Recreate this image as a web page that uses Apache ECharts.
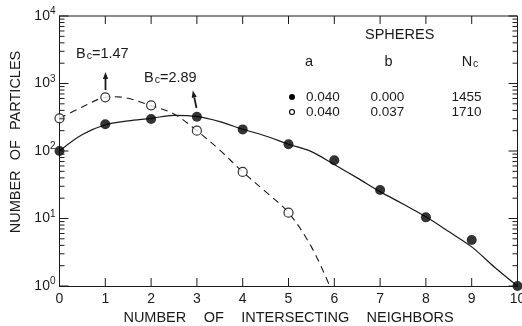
<!DOCTYPE html>
<html>
<head>
<meta charset="utf-8">
<script src="https://cdn.jsdelivr.net/npm/echarts@6/dist/echarts.min.js"></script>
<style>
html, body { margin: 0; padding: 0; background: #fff; }
#main { width: 522px; height: 326px; }
</style>
</head>
<body>
<div id="main"></div>
<script>
// 数据
var neighbors = [0, 1, 2, 3, 4, 5, 6, 7, 8, 9, 10];
var filledVals = [100, 249, 298, 322, 209, 126, 73, 26.4, 10.4, 4.8, 1];
var openX = [0, 1, 2, 3, 4, 5];
var openVals = [305, 625, 475, 200, 49, 12.2];
// fitted curves, read at several x positions
var solidCurveX = [0, 0.5, 1, 1.5, 2, 2.5, 3, 3.5, 4, 4.5, 5, 5.5, 6, 6.5, 7, 7.5, 8, 8.5, 9, 9.5, 10];
var solidCurveY = [100, 175, 245, 280, 305, 338, 325, 272, 210, 167, 126, 98, 63, 40, 25, 16.4, 10.6, 6.4, 3.8, 1.9, 1];
var dashCurveX = [0, 0.5, 1, 1.2, 1.5, 2, 2.5, 3, 3.5, 4, 4.5, 5, 5.5, 5.9];
var dashCurveY = [305, 450, 625, 637, 603, 470, 353, 200, 103, 49, 25, 12.2, 3.8, 1];
// axis ticks
var xTicks = [0, 1, 2, 3, 4, 5, 6, 7, 8, 9, 10];
var yDecades = [1, 10, 100, 1000, 10000];
var minorSteps = [2, 3, 4, 5, 6, 7, 8, 9];
var legendHead = ['a', 'b', 'N{sub|c}'];
var legendRows = [['0.040', '0.000', '1455'], ['0.040', '0.037', '1710']];

var FONT = 'Liberation Sans';
var INK = '#1a1a1a';
var WSP = '\u2003\u2009'; // wide gaps between words, like the original lettering

function pairs(xs, ys) {
    var out = [];
    for (var i = 0; i < xs.length; i++) out.push([xs[i], ys[i]]);
    return out;
}

var myChart = echarts.init(document.getElementById('main'));

var option = {
    animation: false,
    grid: { left: 59.5, right: 4.5, top: 16, bottom: 40, outerBoundsMode: 'none' },
    xAxis: {
        type: 'value', min: 0, max: 10, interval: 1,
        name: ['NUMBER', 'OF', 'INTERSECTING', 'NEIGHBORS'].join(WSP),
        nameLocation: 'middle', nameGap: 18,
        nameTextStyle: { fontFamily: FONT, fontSize: 14.5, color: INK },
        axisLine: { onZero: false, lineStyle: { color: INK, width: 1 } },
        axisTick: { show: false },
        axisLabel: { margin: 6, fontFamily: FONT, fontSize: 14, color: INK },
        splitLine: { show: false }
    },
    yAxis: {
        type: 'log', logBase: 10, min: 1, max: 10000,
        name: ['NUMBER', 'OF', 'PARTICLES'].join('\u2002\u2009'),
        nameLocation: 'middle', nameGap: 30,
        nameTextStyle: { fontFamily: FONT, fontSize: 14.5, color: INK, padding: [0, 0, 0, 18] },
        axisLine: { show: true, onZero: false, lineStyle: { color: INK, width: 1 } },
        axisTick: { show: false },
        axisLabel: {
            margin: 4, fontFamily: FONT, fontSize: 14, color: INK,
            formatter: function (v) {
                return '10{sup|' + Math.round(Math.log10(v)) + '}';
            },
            rich: { sup: { fontFamily: FONT, fontSize: 10, color: INK, padding: [0, 0, 9, 0] } }
        },
        splitLine: { show: false }
    },
    series: [{
        name: 'fit a',
        type: 'line', smooth: 0.35, showSymbol: false, symbol: 'none',
        lineStyle: { color: INK, width: 1.2 },
        data: pairs(solidCurveX, solidCurveY),
        z: 2
    }, {
        name: 'fit b',
        type: 'line', smooth: 0.35, showSymbol: false, symbol: 'none',
        lineStyle: { color: INK, width: 1.1, type: [7, 5] },
        data: pairs(dashCurveX, dashCurveY),
        z: 2
    }, {
        name: 'b=0.000',
        type: 'scatter', symbol: 'circle', symbolSize: 10,
        itemStyle: { color: '#000' },
        clip: false,
        data: pairs(neighbors, filledVals),
        z: 4
    }, {
        name: 'b=0.037',
        type: 'scatter', symbol: 'circle', symbolSize: 9,
        itemStyle: { color: '#fff', borderColor: '#000', borderWidth: 1.2 },
        data: pairs(openX, openVals),
        z: 4
    }]
};

myChart.setOption(option);

var g = [];
function px(x, y) { return myChart.convertToPixel({ gridIndex: 0 }, [x, y]); }
function seg(x1, y1, x2, y2, w) {
    g.push({ type: 'line', z: 5, shape: { x1: x1, y1: y1, x2: x2, y2: y2 }, style: { stroke: INK, lineWidth: w || 1 } });
}

// frame + ticks, all placed through the chart's own scales
var lo = px(0, 1), hi = px(10, 10000);
var L = lo[0], B = lo[1], R = hi[0], T = hi[1];
seg(L, T, R, T);
seg(R, T, R, B);
xTicks.forEach(function (v) {
    var p = px(v, 1)[0];
    seg(p, B, p, B - 8);
    seg(p, T, p, T + 8);
});
yDecades.forEach(function (dec, i) {
    var p = px(0, dec)[1];
    seg(L, p, L + 9, p);
    seg(R, p, R - 9, p);
    if (i === yDecades.length - 1) return;
    minorSteps.forEach(function (m) {
        var q = px(0, dec * m)[1];
        seg(L, q, L + 5, q);
        seg(R, q, R - 5, q);
    });
});

// annotations and the little table (legend)
var txt = { fontFamily: FONT, fill: INK };
var subRich = { sub: { fontFamily: FONT, fontSize: 10.5, fill: INK, padding: [5, 0, 0, 1] } };

g.push({ type: 'text', left: 76, top: 46, style: Object.assign({ text: 'B{sub|c}=1.47', fontSize: 14.5, rich: subRich }, txt) });
g.push({ type: 'text', left: 144, top: 70, style: Object.assign({ text: 'B{sub|c}=2.89', fontSize: 14.5, rich: subRich }, txt) });

function arrow(x0, y0, x1, y1) {
    var dx = x1 - x0, dy = y1 - y0, len = Math.sqrt(dx * dx + dy * dy);
    var ux = dx / len, uy = dy / len, hl = 7, hw = 2.6;
    var bx = x1 - ux * hl, by = y1 - uy * hl;
    g.push({ type: 'line', shape: { x1: x0, y1: y0, x2: bx, y2: by }, style: { stroke: INK, lineWidth: 1.8 } });
    g.push({ type: 'polygon', shape: { points: [[x1, y1], [bx - uy * hw, by + ux * hw], [bx + uy * hw, by - ux * hw]] }, style: { fill: INK } });
}
arrow(105.5, 90, 105.5, 72);
arrow(196.5, 108, 192.8, 90.5);

g.push({ type: 'text', left: 365, top: 27, style: Object.assign({ text: 'SPHERES', fontSize: 14.5 }, txt) });
var colX = [309, 388.5, 470];
for (var c = 0; c < legendHead.length; c++) {
    g.push({ type: 'text', x: colX[c], y: 62, style: Object.assign({ text: legendHead[c], fontSize: 14.5, align: 'center', verticalAlign: 'middle', rich: subRich }, txt) });
}
var rowY = [97, 112];
var cellX = [306, 370.5, 451.5];
for (var r = 0; r < legendRows.length; r++) {
    for (var c2 = 0; c2 < legendRows[r].length; c2++) {
        g.push({ type: 'text', x: cellX[c2], y: rowY[r], style: Object.assign({ text: legendRows[r][c2], fontSize: 13.5, verticalAlign: 'middle' }, txt) });
    }
}
g.push({ type: 'circle', shape: { cx: 292, cy: 97, r: 3 }, style: { fill: '#000' } });
g.push({ type: 'circle', shape: { cx: 292, cy: 112, r: 2.5 }, style: { fill: '#fff', stroke: '#000', lineWidth: 1.1 } });

myChart.setOption({ graphic: g });
</script>
</body>
</html>
